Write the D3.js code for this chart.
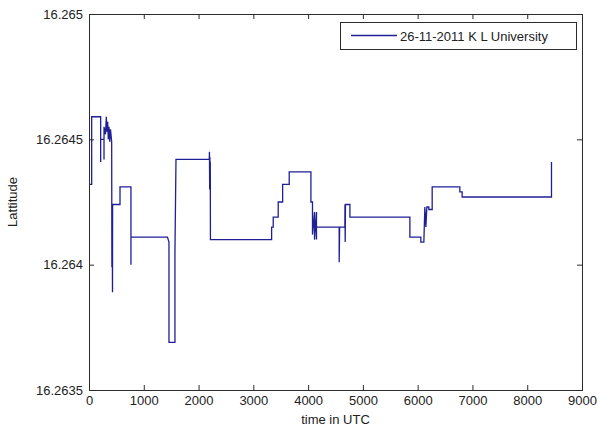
<!DOCTYPE html>
<html>
<head>
<meta charset="utf-8">
<script src="https://cdn.jsdelivr.net/npm/d3@7"></script>
<style>
  body { margin: 0; background: #fff; }
  svg { display: block; font-family: "Liberation Sans", Arial, sans-serif; }
</style>
</head>
<body>
<script>
// data
var timeUTC = [0, 49, 49, 213, 213, 213, 274, 274, 274, 301, 316, 328, 341, 352, 365, 378, 392, 414,
  418, 420, 423, 425, 429, 431, 566, 566, 766, 766, 766, 1432, 1460, 1460, 1569, 1569, 1588, 2195,
  2199, 2203, 2207, 2210, 2214, 2217, 3334, 3334, 3363, 3363, 3454, 3454, 3535, 3535, 3655, 3655,
  4051, 4051, 4080, 4080, 4117, 4117, 4153, 4153, 4153, 4567, 4567, 4576, 4671, 4673, 4677, 4682,
  4690, 4763, 4763, 5858, 5858, 6058, 6058, 6113, 6131, 6150, 6168, 6204, 6204, 6265, 6265, 6770,
  6770, 6812, 6812, 8443, 8443];
var latitude = [16.26432, 16.26432, 16.26459, 16.26459, 16.26441, 16.26450, 16.26450, 16.26442, 16.26455,
  16.26452, 16.26459, 16.26453, 16.26457, 16.26450, 16.26455, 16.26449, 16.26454, 16.26449,
  16.26399, 16.26413, 16.26401, 16.26414, 16.26389, 16.26424, 16.26424, 16.26431, 16.26431, 16.26400,
  16.26411, 16.26411, 16.26409, 16.26369, 16.26369, 16.26405, 16.26442, 16.26442,
  16.26445, 16.26430, 16.26443, 16.26432, 16.26441, 16.26410, 16.26410, 16.26415, 16.26415, 16.26419,
  16.26419, 16.26425, 16.26425, 16.26432, 16.26432, 16.26437,
  16.26437, 16.26425, 16.26425, 16.26412, 16.26421, 16.26410, 16.26421, 16.26410, 16.26415,
  16.26415, 16.26401, 16.26415, 16.26415, 16.26424, 16.26409, 16.26424,
  16.26424, 16.26424, 16.26419, 16.26419, 16.26411, 16.26411, 16.26409, 16.26409, 16.26423, 16.26415,
  16.26423, 16.26423, 16.26422, 16.26422, 16.26431, 16.26431,
  16.26429, 16.26429, 16.26427, 16.26427, 16.26441];
var xTicks = [0, 1000, 2000, 3000, 4000, 5000, 6000, 7000, 8000, 9000];
var yTicks = [16.2635, 16.264, 16.2645, 16.265];
var seriesName = "26-11-2011 K L University";

var w = 598, h = 430;
var margin = {top: 14, right: 16, bottom: 40, left: 89};
var iw = w - margin.left - margin.right;
var ih = h - margin.top - margin.bottom;
var axisColor = "#2b2b2b";
var lineColor = "#1f1f96";

var svg = d3.select("body").append("svg")
  .attr("width", w)
  .attr("height", h);

var g = svg.append("g")
  .attr("transform", "translate(" + margin.left + "," + margin.top + ")");

var x = d3.scaleLinear().domain([0, 9000]).range([0, iw]);
var y = d3.scaleLinear().domain([16.2635, 16.265]).range([ih, 0]);

// data line
var pts = timeUTC.map(function(t, i) { return [t, latitude[i]]; });
var line = d3.line()
  .x(function(d) { return x(d[0]); })
  .y(function(d) { return y(d[1]); });

g.append("path")
  .datum(pts)
  .attr("d", line)
  .attr("fill", "none")
  .attr("stroke", lineColor)
  .attr("stroke-width", 1.3);

// axes (matlab style, ticks inside, box all round)
function styleAxis(sel) {
  sel.select(".domain").remove();
  sel.selectAll(".tick line").attr("stroke", axisColor);
  sel.selectAll(".tick text")
    .attr("fill", "#222")
    .attr("font-size", "13px");
}

g.append("g")
  .attr("transform", "translate(0," + ih + ")")
  .call(d3.axisBottom(x).tickValues(xTicks).tickFormat(d3.format("d")).tickSizeInner(-5).tickSizeOuter(0).tickPadding(6))
  .call(styleAxis);

g.append("g")
  .call(d3.axisTop(x).tickValues(xTicks).tickFormat("").tickSizeInner(-5).tickSizeOuter(0))
  .call(styleAxis);

g.append("g")
  .call(d3.axisLeft(y).tickValues(yTicks).tickFormat(function(d) { return String(+d.toFixed(4)); }).tickSizeInner(-5).tickSizeOuter(0).tickPadding(6))
  .call(styleAxis);

g.append("g")
  .attr("transform", "translate(" + iw + ",0)")
  .call(d3.axisRight(y).tickValues(yTicks).tickFormat("").tickSizeInner(-5).tickSizeOuter(0))
  .call(styleAxis);

g.append("rect")
  .attr("x", 0.5).attr("y", 0.5)
  .attr("width", iw).attr("height", ih)
  .attr("fill", "none")
  .attr("stroke", axisColor)
  .attr("stroke-width", 1);

// axis labels
svg.append("text")
  .attr("x", margin.left + iw / 2)
  .attr("y", 424)
  .attr("text-anchor", "middle")
  .attr("font-size", "13px")
  .attr("fill", "#222")
  .text("time in UTC");

svg.append("text")
  .attr("transform", "translate(17," + (margin.top + ih / 2) + ") rotate(-90)")
  .attr("text-anchor", "middle")
  .attr("font-size", "13px")
  .attr("fill", "#222")
  .text("Lattitude");

// legend
var leg = svg.append("g");
leg.append("rect")
  .attr("x", 340.5).attr("y", 22.5)
  .attr("width", 236).attr("height", 27)
  .attr("fill", "#fff")
  .attr("stroke", axisColor);
leg.append("line")
  .attr("x1", 351).attr("x2", 397)
  .attr("y1", 35.5).attr("y2", 35.5)
  .attr("stroke", lineColor)
  .attr("stroke-width", 1.3);
leg.append("text")
  .attr("x", 400).attr("y", 40.5)
  .attr("font-size", "13px")
  .attr("fill", "#222")
  .text(seriesName);
</script>
</body>
</html>
